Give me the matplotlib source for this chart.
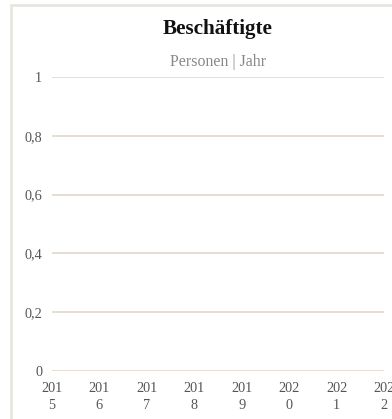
import matplotlib.pyplot as plt
from matplotlib.patches import Rectangle

# Daten: keine Werte vorhanden, nur Kategorien
years = ["2015", "2016", "2017", "2018", "2019", "2020", "2021", "2022"]
year_labels = ["201\n5", "201\n6", "201\n7", "201\n8", "201\n9", "202\n0", "202\n1", "202\n2"]
y_ticks = [0, 0.2, 0.4, 0.6, 0.8, 1]
y_tick_labels = ["0", "0,2", "0,4", "0,6", "0,8", "1"]

plt.rcParams['font.family'] = ['Liberation Serif', 'DejaVu Serif']

W, H = 392, 419
fig = plt.figure(figsize=(W / 100, H / 100), dpi=100)
fig.patch.set_facecolor('white')

# Rahmen (links/oben sichtbar)
fig.patches.append(Rectangle((11.4 / W, -0.1), 1.2, 1.1 - 5.4 / H, transform=fig.transFigure,
                             fill=False, edgecolor='#e6e6e2', linewidth=2.0))

ax = fig.add_axes([52 / W, 1 - 371 / H, (384 - 52) / W, (371 - 77) / H])
ax.set_xlim(0, len(years) - 1)
ax.set_ylim(0, 1)

ax.set_yticks(y_ticks)
ax.set_yticklabels(y_tick_labels)
ax.set_xticks(range(len(years)))
ax.set_xticklabels(year_labels, linespacing=1.4)

ax.grid(axis='y', color='#e3dccf', linewidth=1.3)
ax.set_axisbelow(True)
for s in ax.spines.values():
    s.set_visible(False)
ax.tick_params(axis='both', length=0, labelsize=10.3, labelcolor='#555555')
ax.tick_params(axis='y', pad=7)
ax.tick_params(axis='x', pad=8)

cx = (52 + 384) / 2 / W
fig.text(cx, 1 - 34 / H, "Beschäftigte", ha='center', va='baseline',
         fontsize=15.2, fontweight='bold', color='#111111')
fig.text(cx, 1 - 66 / H, "Personen | Jahr", ha='center', va='baseline',
         fontsize=11.4, color='#888888')

fig.savefig("out.png", dpi=100)
